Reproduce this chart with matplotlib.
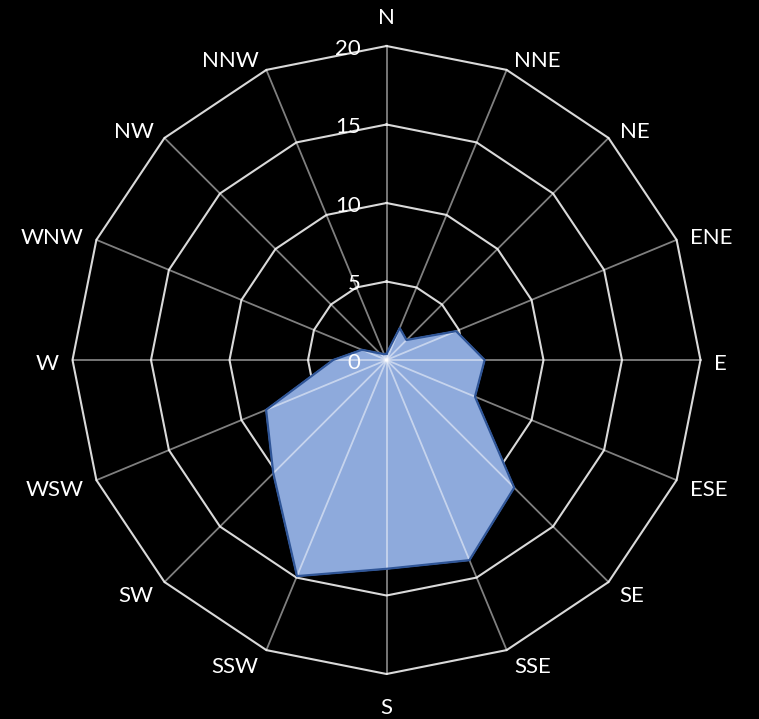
import numpy as np
import matplotlib
matplotlib.use("Agg")
import matplotlib.pyplot as plt
from matplotlib.transforms import offset_copy

directions = ['N', 'NNE', 'NE', 'ENE', 'E', 'ESE', 'SE', 'SSE',
              'S', 'SSW', 'SW', 'WSW', 'W', 'WNW', 'NW', 'NNW']
values = [0.4, 2.2, 1.8, 4.8, 6.25, 6.1, 11.5, 13.8,
          13.3, 14.9, 10.2, 8.3, 3.4, 1.7, 0.6, 0.4]
ring_ticks = [0, 5, 10, 15, 20]
r_max = 20

plt.rcParams['font.family'] = ['Lato', 'DejaVu Sans']

W, H = 759, 719
dpi = 100
fig = plt.figure(figsize=(W / dpi, H / dpi), dpi=dpi, facecolor='black')
cx, cy, R = 386.5, 360, 314
ax = fig.add_axes([(cx - R) / W, (H - cy - R) / H, 2 * R / W, 2 * R / H],
                  projection='polar', facecolor='black')
ax.set_theta_zero_location('N')
ax.set_theta_direction(-1)
ax.set_ylim(0, r_max)
ax.grid(False)
ax.spines['polar'].set_visible(False)
ax.set_xticks([])
ax.set_yticks([])

n = len(directions)
theta = np.arange(n) * 2 * np.pi / n
theta_c = np.append(theta, theta[0])

# polygon rings
for rv in ring_ticks[1:]:
    ax.plot(theta_c, [rv] * (n + 1), color='#d9d9d9', lw=1.5, zorder=1, clip_on=False)

# data polygon
vals_c = np.append(values, values[0])
ax.fill(theta_c, vals_c, color='#8eaadc', zorder=2, clip_on=False)
ax.plot(theta_c, vals_c, color='#2f5597', lw=1.6, zorder=4, clip_on=False)

# spokes
for t in theta:
    ax.plot([t, t], [0, r_max], color='white', alpha=0.5, lw=1.3, zorder=3, clip_on=False)

# radial tick labels
tr = offset_copy(ax.transData, fig=fig, x=-26, y=-3, units='dots')
for rv in ring_ticks:
    ax.text(0, rv, str(rv), transform=tr, ha='right', va='center',
            color='white', fontsize=16, zorder=5)

# direction labels (placed just outside the outer ring vertex)
for t, lab in zip(theta, directions):
    s, c = np.sin(t), np.cos(t)
    if abs(s) < 0.1:
        dx, dy = 0, -c * 31 + 3
        ha = 'center'
    else:
        gap = 4 + 10 * abs(s)
        dx = np.sign(s) * gap
        dy = -c * 14 + 4
        ha = 'left' if s > 0 else 'right'
    trl = offset_copy(ax.transData, fig=fig, x=dx, y=-dy, units='dots')
    ax.text(t, r_max, lab, transform=trl, ha=ha, va='center', color='white',
            fontsize=16, clip_on=False)

fig.savefig('out.png', dpi=dpi, facecolor='black')
